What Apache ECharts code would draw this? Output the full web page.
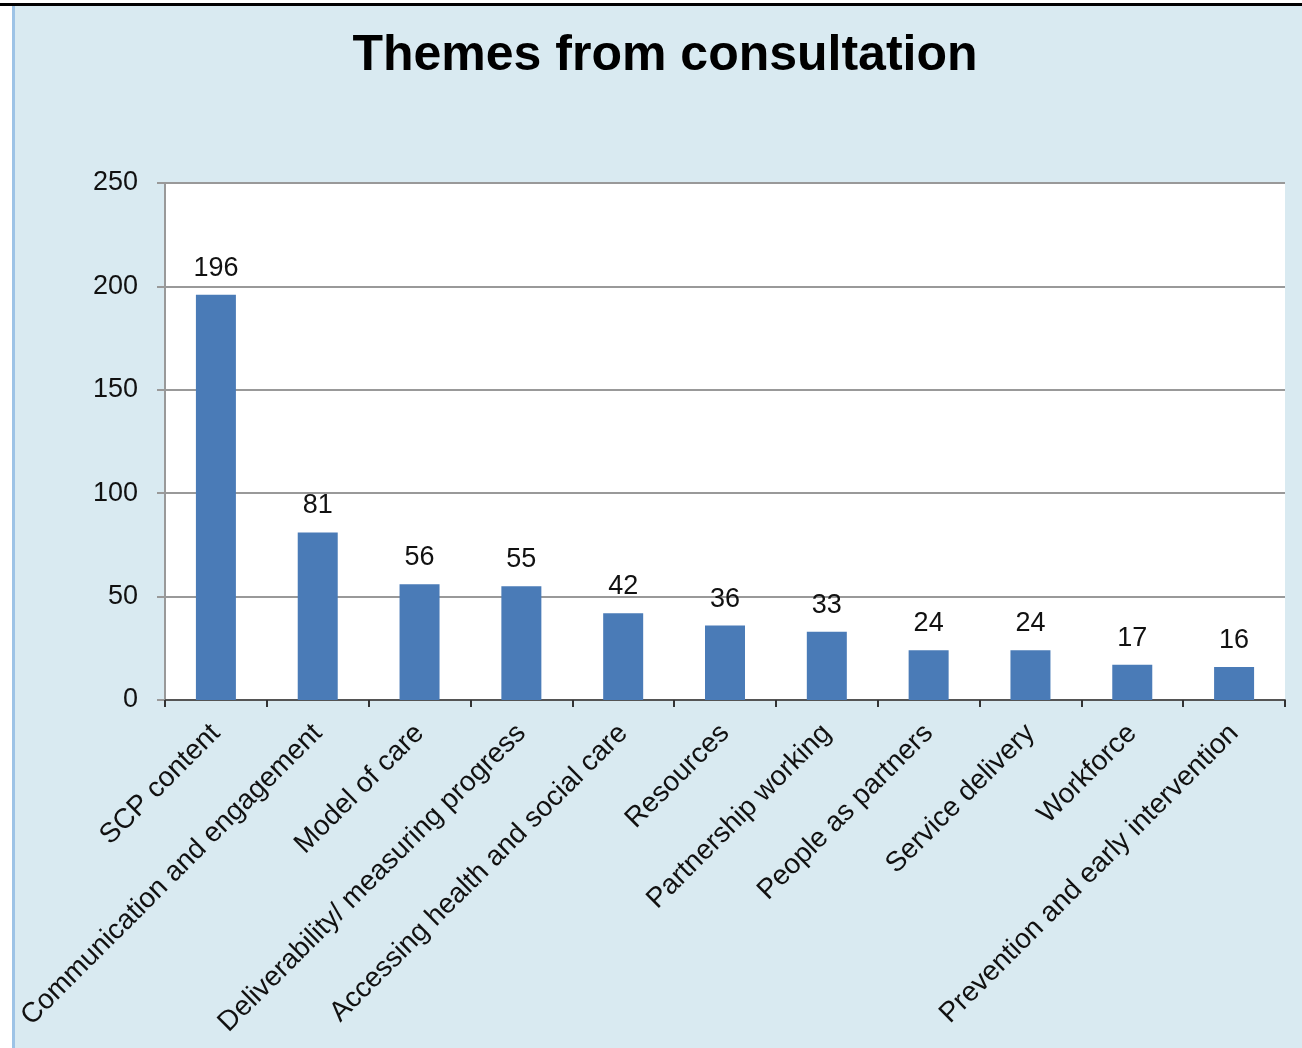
<!DOCTYPE html>
<html>
<head>
<meta charset="utf-8">
<script src="https://cdn.jsdelivr.net/npm/echarts@6/dist/echarts.min.js"></script>
<style>
html,body{margin:0;padding:0;background:#fff;}
#c{width:1302px;height:1048px;}
</style>
</head>
<body>
<div id="c"></div>
<script>
const titleText = "Themes from consultation";
const categories = ["SCP content","Communication and engagement","Model of care","Deliverability/ measuring progress","Accessing health and social care","Resources","Partnership working","People as partners","Service delivery","Workforce","Prevention and early intervention"];
const values = [196,81,56,55,42,36,33,24,24,17,16];
const yTicks = {min:0, max:250, interval:50};

const FONT = "'Liberation Sans', Arial, sans-serif";
const chart = echarts.init(document.getElementById('c'));
chart.setOption({
  backgroundColor: '#ffffff',
  animation: false,
  graphic: [
    {type:'rect', z:-10, shape:{x:15,y:6,width:1287,height:1042}, style:{fill:'#d9eaf1'}},
    {type:'rect', z:-9, shape:{x:165,y:183,width:1120,height:517}, style:{fill:'#ffffff'}},
    {type:'rect', z:-5, shape:{x:0,y:3,width:1302,height:3}, style:{fill:'#000000'}},
    {type:'rect', z:-5, shape:{x:12,y:6,width:3,height:1042}, style:{fill:'#9dc3e6'}}
  ],
  title: {
    text: titleText,
    left: 660,
    top: 26,
    textAlign: 'center',
    textStyle: {fontFamily: FONT, fontSize: 50, fontWeight: 'bold', color: '#000'}
  },
  grid: {left:165, right:17, top:183, bottom:348, containLabel:false},
  xAxis: {
    type: 'category',
    data: categories,
    axisLine: {show:true, lineStyle:{color:'#555', width:2}},
    axisTick: {show:true, length:7, lineStyle:{color:'#333', width:2}},
    axisLabel: {rotate:45, interval:0, margin:29, fontFamily:FONT, fontSize:28, color:'#111'}
  },
  yAxis: {
    type: 'value',
    min: yTicks.min, max: yTicks.max, interval: yTicks.interval,
    axisLine: {show:true, lineStyle:{color:'#999', width:2}},
    axisTick: {show:true, length:8, lineStyle:{color:'#999', width:2}},
    splitLine: {show:true, lineStyle:{color:'#999', width:2}},
    axisLabel: {margin:27, fontFamily:FONT, fontSize:27, color:'#111'}
  },
  series: [{
    type: 'bar',
    data: values,
    barWidth: 40,
    itemStyle: {color:'#4a7bb7'},
    label: {show:true, position:'top', distance:13, fontFamily:FONT, fontSize:27, color:'#111'}
  }]
});
</script>
</body>
</html>
